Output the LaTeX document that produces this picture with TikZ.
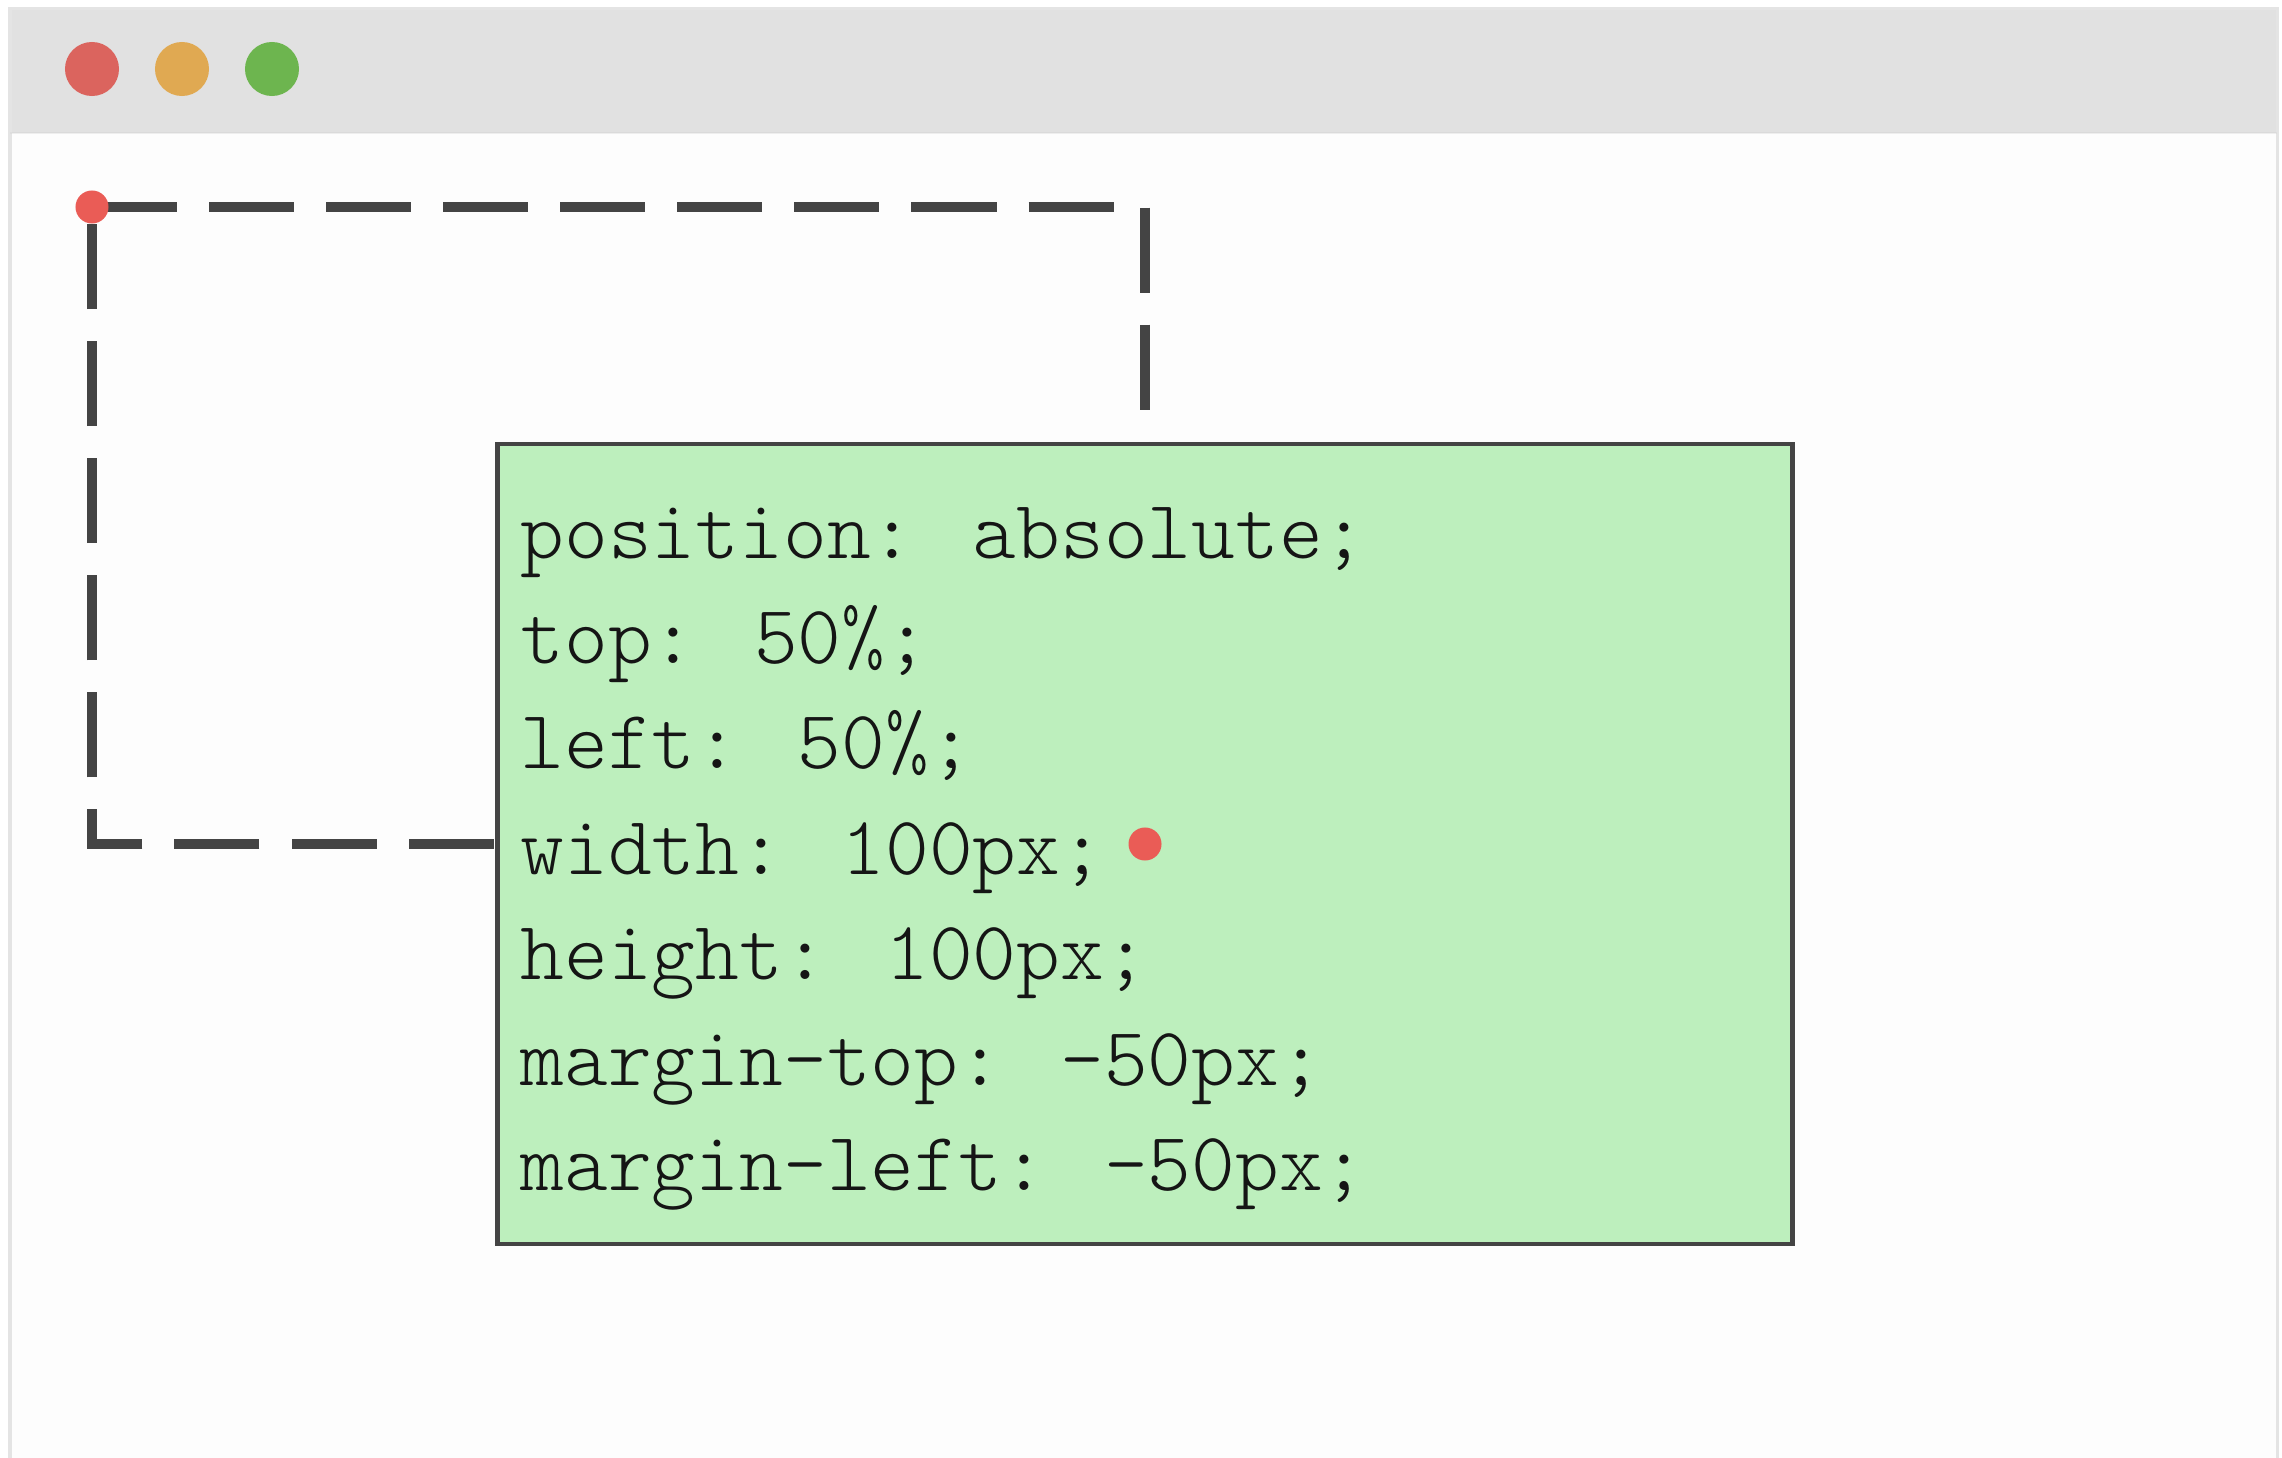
\documentclass[tikz,border=0pt]{standalone}
\usepackage{fontspec}
\newfontfamily\codefont{Latin Modern Mono Light}
\definecolor{framegray}{HTML}{E4E4E4}
\definecolor{barfill}{HTML}{E1E1E1}
\definecolor{pagefill}{HTML}{FDFDFD}
\definecolor{btnred}{HTML}{DB645E}
\definecolor{btnorange}{HTML}{E0A952}
\definecolor{btngreen}{HTML}{6DB54F}
\definecolor{linegray}{HTML}{444444}
\definecolor{boxgreen}{HTML}{BDEFBD}
\definecolor{dotred}{HTML}{EA5C56}
\definecolor{codeink}{HTML}{151515}
\tikzset{
  btn/.style={circle, inner sep=0pt, minimum size=0.54cm, draw=none},
  reddot/.style={circle, inner sep=0pt, minimum size=0.33cm, fill=dotred, draw=none},
  dashline/.style={draw=linegray, line width=0.1cm, dash pattern=on 0.85cm off 0.32cm, line join=miter},
  codebox/.style={rectangle, draw=linegray, line width=0.045cm, fill=boxgreen, minimum width=12.94cm, minimum height=8.00cm, inner sep=0pt},
  code/.style={anchor=base west, inner sep=0pt, text=codeink, font=\codefont\fontsize{23.7}{29}\selectfont}
}
\begin{document}
\begin{tikzpicture}[x=0.01cm, y=-0.01cm]
\useasboundingbox (0,0) rectangle (2282,1458);
\fill[white] (0,0) rectangle (2282,1458);
% browser window
\fill[pagefill] (10,9) rectangle (2277,1470);
\fill[barfill] (10,9) rectangle (2277,133);
\draw[framegray, line width=0.03cm] (10,1470) -- (10,9) -- (2277,9) -- (2277,1470);
\draw[framegray!90!black, line width=0.015cm, opacity=0.3] (10,133) -- (2277,133);
% window buttons
\node[btn, fill=btnred] (btnclose) at (92,69) {};
\node[btn, fill=btnorange] (btnmin) at (182,69) {};
\node[btn, fill=btngreen] (btnmax) at (272,69) {};
% dashed containing block
\coordinate (tl) at (92,207);
\coordinate (tr) at (1145,207);
\coordinate (br) at (1145,844);
\coordinate (bl) at (92,844);
\draw[dashline] (tl) -- (tr) -- (br) -- (bl) -- cycle;
% green box
\node[codebox] (box) at (1145,844) {};
\node[code] (l1) at (520,558) {position: absolute;};
\node[code] (l2) at (520,663) {top: 50\%;};
\node[code] (l3) at (520,768) {left: 50\%;};
\node[code] (l4) at (520,874) {width: 100px;};
\node[code] (l5) at (520,979) {height: 100px;};
\node[code] (l6) at (520,1085) {margin-top: -50px;};
\node[code] (l7) at (520,1190) {margin-left: -50px;};
% red markers
\node[reddot] (origin) at (tl) {};
\node[reddot] (center) at (br) {};
\end{tikzpicture}
\end{document}
